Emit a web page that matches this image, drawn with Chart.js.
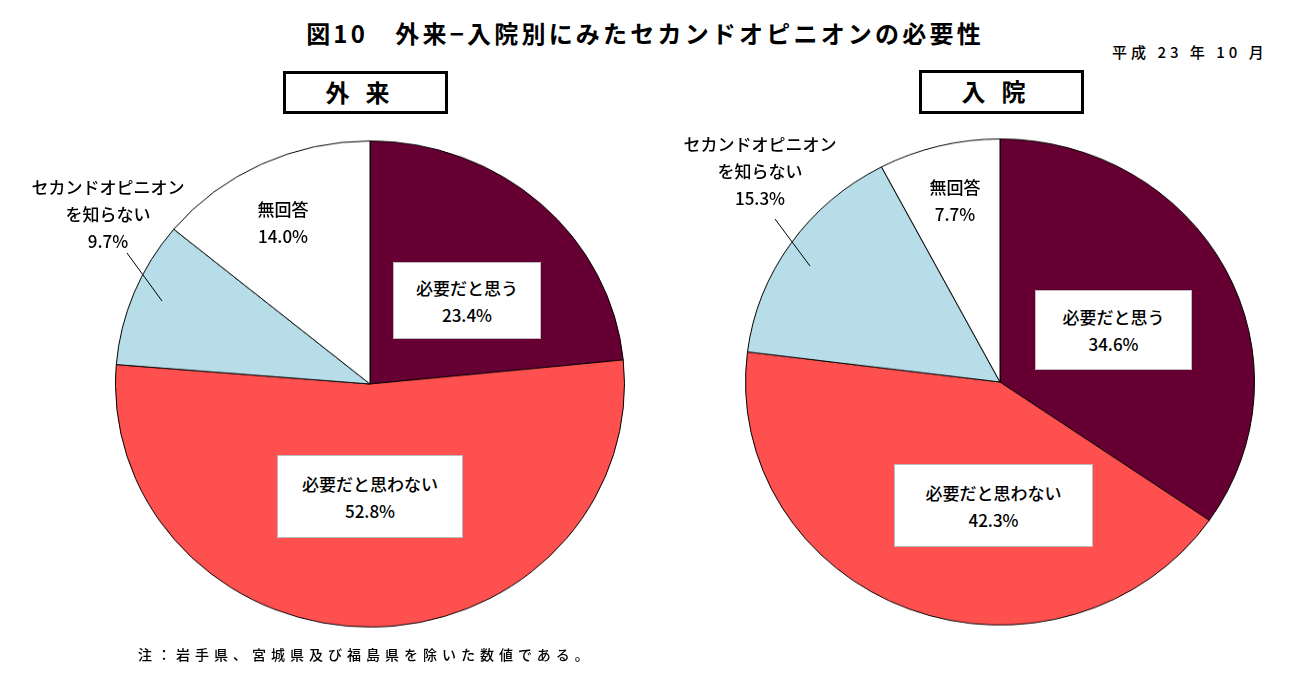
<!DOCTYPE html>
<html lang="ja">
<head>
<meta charset="utf-8">
<script src="https://cdn.jsdelivr.net/npm/chart.js@4.4.1/dist/chart.umd.min.js"></script>
<style>
  body { margin: 0; background: #fff; font-family: "Noto Sans CJK JP", "Noto Sans", sans-serif; color: #000; }
  #page { position: relative; width: 1300px; height: 692px; overflow: hidden; }
  .abs { position: absolute; }
  .title { left: 0; width: 1290px; top: 15px; text-align: center; font-size: 24px; font-weight: bold; letter-spacing: 3.2px; }
  .date { left: 1112px; top: 41px; font-size: 15px; letter-spacing: 4px; font-weight: 500; }
  .head { border: 3px solid #000; box-sizing: border-box; text-align: center; font-size: 24px; font-weight: bold; line-height: 36px; letter-spacing: 16px; background: #fff; }
  .pie { width: 510px; height: 510px; transform: scaleY(0.955); transform-origin: center; }
  .lbl { text-align: center; font-size: 17px; line-height: 27px; font-weight: 500; }
  .box { background: #fff; border: 1px solid #bbb; box-sizing: border-box; display: flex; flex-direction: column; justify-content: center; }
  .note { left: 138px; top: 644px; font-size: 14px; letter-spacing: 5px; font-weight: 500; }
  svg { position: absolute; left: 0; top: 0; }
</style>
</head>
<body>
<div id="page">
  <div class="abs title">図10　外来−入院別にみたセカンドオピニオンの必要性</div>
  <div class="abs date">平成 23 年 10 月</div>

  <div class="abs head" style="left:283px; top:71px; width:165px; height:43px;">外来</div>
  <div class="abs head" style="left:919px; top:70px; width:165px; height:44px;">入院</div>

  <div class="abs pie" style="left:115px; top:129px;"><canvas id="outChart" width="510" height="510"></canvas></div>
  <div class="abs pie" style="left:745px; top:127px;"><canvas id="inChart" width="510" height="510"></canvas></div>

  <svg width="1300" height="692">
    <line x1="127" y1="253" x2="162" y2="301" stroke="#000" stroke-width="1"/>
    <line x1="775" y1="219" x2="810" y2="266" stroke="#000" stroke-width="1"/>
  </svg>

  <div id="labels"></div>

  <div class="abs note">注：岩手県、宮城県及び福島県を除いた数値である。</div>
</div>

<script>
// data
const categories = ['必要だと思う', '必要だと思わない', 'セカンドオピニオンを知らない', '無回答'];
const outpatientValues = [23.4, 52.8, 9.7, 14.0];
const inpatientValues = [34.6, 42.3, 15.3, 7.7];
const sliceColors = ['#660033', '#FF5050', '#B7DDE8', '#FFFFFF'];

// where each label sits (left, top, width, height, boxed)
const outLabelPos = [
    [393, 262, 148, 77, true],
    [277, 455, 186, 83, true],
    [15, 173, 186, 82, false],
    [233, 195, 100, 56, false]
];
const inLabelPos = [
    [1035, 290, 157, 80, true],
    [894, 464, 199, 83, true],
    [667, 130, 186, 82, false],
    [905, 173, 100, 56, false]
];

function labelText(name) {
    // the long label wraps after the katakana part
    if (name === 'セカンドオピニオンを知らない') return 'セカンドオピニオン<br>を知らない';
    return name;
}

function addLabels(values, positions) {
    const holder = document.getElementById('labels');
    values.forEach((v, i) => {
        const p = positions[i];
        const div = document.createElement('div');
        div.className = 'abs lbl' + (p[4] ? ' box' : '');
        div.style.left = p[0] + 'px';
        div.style.top = p[1] + 'px';
        div.style.width = p[2] + 'px';
        div.style.height = p[3] + 'px';
        div.innerHTML = `<div>${labelText(categories[i])}<br>${v.toFixed(1)}%</div>`;
        holder.appendChild(div);
    });
}

function drawPie(canvasId, values) {
    const ctx = document.getElementById(canvasId).getContext('2d');
    new Chart(ctx, {
        type: 'pie',
        data: {
            labels: categories,
            datasets: [{
                data: values,
                backgroundColor: sliceColors,
                borderColor: '#000',
                borderWidth: 1
            }]
        },
        options: {
            responsive: false,
            animation: false,
            devicePixelRatio: 1,
            layout: { padding: 0 },
            plugins: { legend: { display: false }, tooltip: { enabled: false } }
        }
    });
}

drawPie('outChart', outpatientValues);
drawPie('inChart', inpatientValues);
addLabels(outpatientValues, outLabelPos);
addLabels(inpatientValues, inLabelPos);
</script>
</body>
</html>
